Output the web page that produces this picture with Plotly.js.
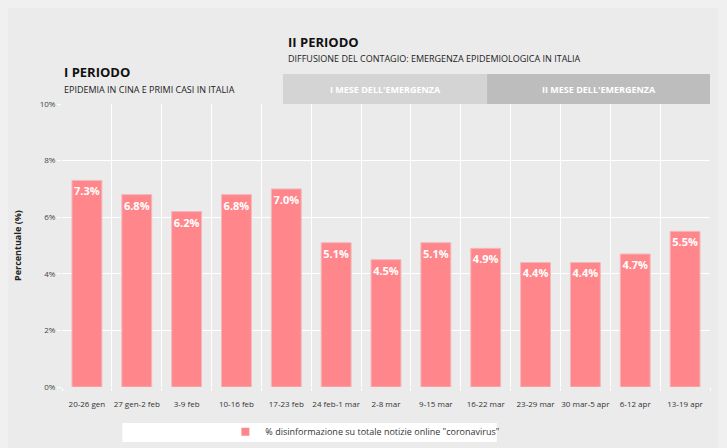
<!DOCTYPE html>
<html>
<head>
<meta charset="utf-8">
<script src="https://cdn.plot.ly/plotly-3.0.1.min.js"></script>
<style>html,body{margin:0;padding:0;background:#f0f0f0;}#chart{width:727px;height:448px;}</style>
</head>
<body>
<div id="chart"></div>
<script>
const categories = ["20-26 gen","27 gen-2 feb","3-9 feb","10-16 feb","17-23 feb","24 feb-1 mar","2-8 mar","9-15 mar","16-22 mar","23-29 mar","30 mar-5 apr","6-12 apr","13-19 apr"];
const values = [7.3, 6.8, 6.2, 6.8, 7.0, 5.1, 4.5, 5.1, 4.9, 4.4, 4.4, 4.7, 5.5];
const yTickVals = [0, 2, 4, 6, 8, 10];
const yTickText = ["0%","2%","4%","6%","8%","10%"];
const seriesName = '% disinformazione su totale notizie online "coronavirus"';

const idx = categories.map((_, i) => i);
const boundaries = [];
for (let i = 0; i <= categories.length; i++) boundaries.push(i - 0.5);

const F = "Open Sans, Noto Sans, sans-serif";
const barColor = '#ff878b';

const traces = [{
  type: 'bar',
  x: idx,
  y: values,
  width: 0.6,
  name: seriesName,
  showlegend: false,
  marker: {color: barColor, line: {color: '#f2b9bc', width: 1}},
  text: values.map(v => v.toFixed(1) + '%'),
  textposition: 'inside',
  insidetextanchor: 'end',
  constraintext: 'none',
  textangle: 0,
  textfont: {family: F, size: 11, color: '#ffffff', weight: 'bold'},
  hoverinfo: 'x+y'
}, {
  type: 'scatter', mode: 'markers', x: [null], y: [null], name: seriesName,
  marker: {symbol: 'square', size: 8, color: barColor}, showlegend: true, hoverinfo: 'skip'
}, {
  type: 'scatter', x: [null], y: [null], xaxis: 'x2', showlegend: false, hoverinfo: 'skip'
}];

const layout = {
  width: 727, height: 448,
  margin: {l: 62, r: 17, t: 104, b: 61, autoexpand: false},
  paper_bgcolor: '#f0f0f0',
  plot_bgcolor: '#ebebeb',
  font: {family: F, color: '#333'},
  xaxis: {
    range: [-0.5, categories.length - 0.5],
    tickvals: idx, ticktext: categories,
    showgrid: false, zeroline: false, showline: false,
    ticks: 'outside', ticklen: 9, tickcolor: 'rgba(0,0,0,0)',
    tickfont: {size: 8, color: '#333'},
    fixedrange: true
  },
  xaxis2: {
    overlaying: 'x', range: [-0.5, categories.length - 0.5],
    tickvals: boundaries, showticklabels: false,
    showgrid: true, gridcolor: '#ffffff', gridwidth: 1,
    ticks: 'outside', ticklen: 3, tickcolor: '#ffffff',
    zeroline: false, showline: false, side: 'bottom'
  },
  yaxis: {
    range: [0, 10],
    tickvals: yTickVals, ticktext: yTickText,
    showgrid: true, gridcolor: '#ffffff', gridwidth: 1,
    ticks: 'outside', ticklen: 4, tickcolor: '#ffffff',
    zeroline: false, showline: false,
    tickfont: {size: 8, color: '#444'},
    title: {text: 'Percentuale (%)', font: {size: 9, color: '#222', weight: 'bold'}, standoff: 16}
  },
  showlegend: true,
  legend: {
    orientation: 'h', xref: 'container', yref: 'container',
    x: 0.310, y: 0.036, xanchor: 'left', yanchor: 'middle',
    bgcolor: 'rgba(0,0,0,0)', font: {size: 9, color: '#333'},
    itemwidth: 30
  },
  shapes: [
    {type: 'rect', xref: 'paper', yref: 'paper', x0: -0.083, x1: 1.0123, y0: -0.216, y1: 1.34, fillcolor: '#ebebeb', line: {width: 0}, layer: 'below'},
    {type: 'rect', xref: 'paper', yref: 'paper', x0: 0.341, x1: 0.656, y0: 1.0, y1: 1.106, fillcolor: '#d4d4d4', line: {width: 0}},
    {type: 'rect', xref: 'paper', yref: 'paper', x0: 0.656, x1: 1.0, y0: 1.0, y1: 1.106, fillcolor: '#bdbdbd', line: {width: 0}},
    {type: 'rect', xref: 'paper', yref: 'paper', x0: 0.093, x1: 0.671, y0: -0.194, y1: -0.127, fillcolor: '#ffffff', line: {width: 0}, layer: 'below'}
  ],
  annotations: [
    {xref: 'paper', yref: 'paper', x: 0.0, y: 1.075, xanchor: 'left', yanchor: 'bottom', showarrow: false,
     text: 'I PERIODO', font: {size: 13, color: '#111', weight: 'bold'}},
    {xref: 'paper', yref: 'paper', x: 0.0, y: 1.022, xanchor: 'left', yanchor: 'bottom', showarrow: false,
     text: 'EPIDEMIA IN CINA E PRIMI CASI IN ITALIA', font: {size: 9, color: '#222'}},
    {xref: 'paper', yref: 'paper', x: 0.346, y: 1.18, xanchor: 'left', yanchor: 'bottom', showarrow: false,
     text: 'II PERIODO', font: {size: 13, color: '#111', weight: 'bold'}},
    {xref: 'paper', yref: 'paper', x: 0.346, y: 1.132, xanchor: 'left', yanchor: 'bottom', showarrow: false,
     text: 'DIFFUSIONE DEL CONTAGIO: EMERGENZA EPIDEMIOLOGICA IN ITALIA', font: {size: 9, color: '#222'}},
    {xref: 'paper', yref: 'paper', x: 0.4985, y: 1.053, xanchor: 'center', yanchor: 'middle', showarrow: false,
     text: "I MESE DELL'EMERGENZA", font: {size: 9, color: '#ffffff', weight: 'bold'}},
    {xref: 'paper', yref: 'paper', x: 0.828, y: 1.053, xanchor: 'center', yanchor: 'middle', showarrow: false,
     text: "II MESE DELL'EMERGENZA", font: {size: 9, color: '#ffffff', weight: 'bold'}}
  ]
};

Plotly.newPlot('chart', traces, layout, {displayModeBar: false, responsive: false});
</script>
</body>
</html>
